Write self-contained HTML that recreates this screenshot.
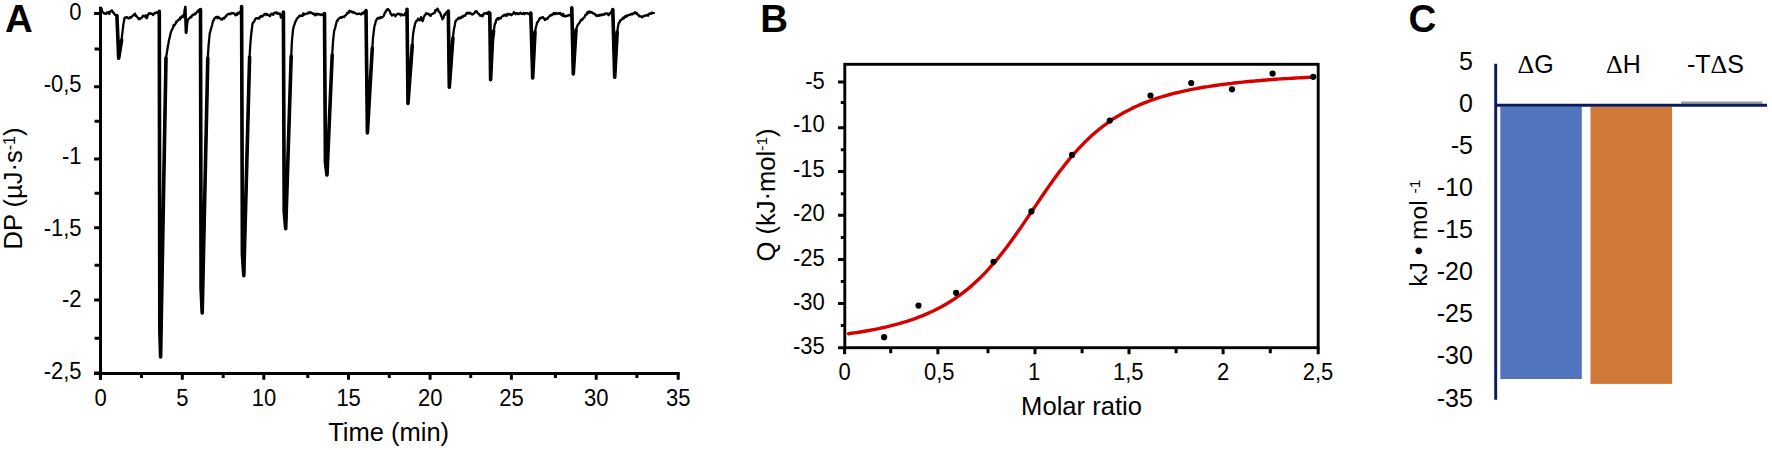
<!DOCTYPE html>
<html><head><meta charset="utf-8"><title>ITC figure</title>
<style>html,body{margin:0;padding:0;background:#fff;}svg{display:block;}</style></head>
<body><svg width="1772" height="450" viewBox="0 0 1772 450" font-family="'Liberation Sans', Arial, sans-serif" fill="#000">
<rect width="1772" height="450" fill="#fff"/>
<path d="M100.5,8 101,10.2 101.5,8.5 102,11 102.7,12.1 103.3,12.3 104,13.5 104.7,13.4 105.3,13.7 106,14 106.7,12.5 107.3,13.2 108,13 108.7,12 109.3,14 110,11.5 110.7,11.3 111.3,10.6 112,10.5 112.5,11.3 113,12.5 113.7,12.9 114.3,13.5 115,15 116.9,15.5 118.7,58.3 121.6,40 121.6,40 122.1,35.2 122.7,30.4 123.2,25.6 123.9,21.4 124.6,17.6 125,17.6 125.7,17.7 126.3,17.1 127,17.1 127.7,18.2 128.3,18 129,18.6 129.5,17.9 130,17.1 130.7,17.9 131.3,17.1 132,16.6 132.7,15.6 133.3,15.2 134,14.6 134.5,14.4 135,13.6 135.5,15.8 136,15.6 136.7,16.3 137.3,17.1 138,18.1 138.7,19 139.3,18.2 140,19.1 140.5,18.4 141,18.1 141.7,17.8 142.3,16.8 143,15.6 143.7,15.8 144.3,16.3 145,16.1 145.7,15.1 146.3,18 147,18.1 147.5,16 148,15.1 148.7,13.4 149.3,13.9 150,13.1 150.7,13.9 151.3,13.5 152,14.1 152.5,14 153,15.1 153.7,14.3 154.3,13.4 155,12.6 155.7,13.3 156.3,12.7 157,12.1 157.5,12.5 158.1,13.4 158.6,13.1 159.3,11.3 159.8,329.3 160.6,357 166,58 166,58 166.7,53.9 167.3,50 167.9,46.1 168.4,43.7 169,40 169.7,37.7 170.3,34.5 171,32 171.7,30.1 172.3,29.2 173,27.6 173.7,24.9 174.3,25.7 175,24.1 175.7,23.6 176.3,21.5 177,21.6 177.7,21 178.3,19.7 179,19.6 179.7,19.6 180.3,17.4 181,18.1 181.5,16.7 182,16.9 182.5,15.6 183.2,17 183.8,17.1 184.5,10.8 185.2,7.1 185.8,20 186.3,33 186.8,27.8 187.3,22.6 188,19.6 188.7,18.6 189.3,18.5 190,17.6 190.7,16.6 191.3,17.2 192,15.6 192.7,14.6 193.3,15.1 194,14.6 194.7,13.5 195.3,14.4 196,13.1 196.7,12.4 197.3,11.5 198,11.1 198.7,9.9 199.3,11.8 200,10.6 200.5,9.5 201.1,288.7 202.2,313 207.8,58 207.8,58 208.2,51.5 208.6,45 209.2,39 209.8,33 210.4,31.3 211,28.6 211.7,26.6 212.3,24.3 213,21.1 213.7,20.3 214.3,18.7 215,18.1 215.7,17.3 216.3,17 217,17.1 217.6,18.2 218.2,16.7 218.9,17.5 219.5,18.1 220.1,18.3 220.8,19 221.4,19.6 222,19.6 222.7,18.5 223.3,17.9 224,18.6 224.7,17.6 225.3,17.3 226,15.6 226.7,15.6 227.3,14.7 228,14.1 228.6,13.8 229.2,14.1 229.8,13.7 230.4,14.2 231,13.6 231.7,13 232.3,13.3 233,13.1 233.6,13.2 234.2,13.8 234.8,13.8 235.4,15.4 236,14.1 236.6,14.9 237.2,14.8 237.8,12.6 238.4,13.5 239,13.6 239.7,12.2 240.3,11.9 241,10.6 241.6,6.5 242.4,254.2 243.8,275.7 249.6,57 249.6,57 249.9,51 250.3,45 251,36 251.5,31.8 252,27.6 252.5,23.7 253,22.6 253.7,22.3 254.3,21.2 255,19.6 255.6,18.5 256.2,18.4 256.8,18.2 257.4,18.4 258,18.1 258.6,18.1 259.2,18.5 259.8,16.8 260.4,17 261,16.1 261.6,15.9 262.2,16.6 262.8,15.6 263.4,15.7 264,14.6 264.6,13.9 265.2,14.3 265.8,13.8 266.4,15.1 267,14.1 267.6,14.9 268.2,14.7 268.8,15 269.4,16 270,16.1 270.7,14.8 271.3,13.9 272,13.6 272.7,13.8 273.3,14.9 274,13.2 274.7,12.9 275.3,12.5 276,13.1 276.7,12.4 277.3,13.6 278,13.9 278.7,13.4 279.3,13.7 280,13.6 280.5,15.7 281,17.6 281.6,16.7 282.2,14.7 282.8,14.6 283.4,12 284.2,211.3 285.7,228.6 291.2,56 291.2,56 291.6,48 292,40 292.5,35 293,30 293.5,27.5 294,25.6 294.7,24 295.3,21.8 296,20.6 296.6,19.4 297.2,18.3 297.8,17.7 298.4,17.5 299,16.1 299.6,15.7 300.2,15.6 300.8,16 301.4,15.7 302,15.1 302.6,15.9 303.2,13.4 303.8,15 304.4,14 305,14.1 305.6,13.9 306.2,14 306.8,13.8 307.4,13.5 308,12.6 308.7,12.5 309.3,13.2 310,12.1 310.7,12.3 311.3,12.7 312,13.1 312.7,13.9 313.3,13.4 314,14.1 314.7,15.2 315.3,14.4 316,13.6 316.7,15.1 317.3,13.9 318,14.1 318.7,14 319.3,14.5 320,14.6 320.7,15 321.3,14.2 322,14.6 322.7,14.8 323.3,14.6 324,14.6 324.5,13.5 325.4,162.1 327,175 332.2,55 332.2,55 332.6,48.5 333,42 333.6,36 334.3,30 335,28.8 335.7,25.6 336.4,22.7 337,20.6 337.6,20.7 338.2,19.2 338.8,18.5 339.4,18.2 340,18.1 340.6,17.1 341.2,17.6 341.8,17.8 342.4,17 343,16.6 343.6,16.7 344.2,17 344.8,15.9 345.4,15.5 346,15.1 346.7,14.3 347.3,12.8 348,13.1 348.7,12.9 349.3,10.7 350,11.1 350.7,11.7 351.3,11.4 352,11.6 352.6,12.6 353.2,12.2 353.8,12 354.4,13 355,13.1 355.7,13.1 356.3,13.7 357,14.1 357.7,14 358.3,13.7 359,13.6 359.7,13.8 360.3,13.8 361,14.6 361.7,14.2 362.3,12.7 363,13.6 363.6,13 364.2,11.9 364.9,12.8 365.5,11.6 366,10.6 367.4,133 372.3,48 372.3,48 373,38 373.5,33.9 374,29.7 374.5,25.6 375.1,24.6 375.8,20.9 376.4,20.4 377,18.6 377.6,18.4 378.2,17.8 378.8,18.6 379.4,17.9 380,18.1 380.7,16.9 381.3,17.6 382,17.6 382.7,16.8 383.3,16.3 384,15.6 384.5,13.5 385,13.3 385.5,11.6 386.1,11.4 386.8,9.7 387.4,9.3 388,9.1 388.7,9.9 389.3,10.4 390,11.6 390.7,14 391.3,14.4 392,15.6 392.7,14.7 393.3,14.5 394,14.6 394.7,14.7 395.3,16.3 396,15.1 396.7,14.5 397.3,14.2 398,13.6 398.7,14.1 399.3,13.9 400,14.1 400.7,15.6 401.3,14.1 402,14.6 402.7,15.2 403.3,15 404,15.1 404.6,14.8 405.2,13.1 405.9,14.3 406.5,12.6 407,9.3 408,103.4 412.3,45 412.3,45 413,35 413.5,31.7 414,28.6 414.5,26.6 415,24 415.5,22.6 416.1,21.2 416.8,20.9 417.4,20.2 418,18.6 418.7,19.6 419.3,20.3 420,20.1 420.5,19 421,17.1 421.5,18.5 422.1,20.3 422.6,21.2 423.3,19.3 424,16.6 424.7,15.4 425.3,14.7 426,13.1 426.7,14 427.3,13.6 428,13.6 428.7,13.9 429.3,15 430,15.1 430.7,15.9 431.3,14.3 432,14.1 432.7,13.7 433.3,13.4 434,13.1 434.7,12.9 435.3,10.2 436,10.6 436.6,10.2 437.3,8.6 438,9.1 438.6,11.5 439.3,11.9 440,12.6 440.6,13.9 441.2,16.1 441.8,16.7 442.4,19.3 442.9,17.7 443.5,17.9 444,15.6 444.7,14.1 445.3,14.7 446,12.6 446.6,12.2 447.2,12.5 447.8,11.6 448.3,11 449.3,87.3 451.3,60 452.9,38 452.9,38 453.4,33.3 454,28.6 454.7,26 455.3,21.9 456,20.6 456.7,19.6 457.3,19.4 458,18.6 458.6,17.8 459.2,17.6 459.8,18.5 460.4,17.8 461,18.1 461.6,16.6 462.2,16.7 462.8,17.1 463.4,15.8 464,15.6 464.6,15.8 465.2,15.7 465.8,14.4 466.4,13.3 467,13.6 467.6,12.6 468.2,13.2 468.8,13.5 469.4,13 470,12.6 470.7,13.6 471.3,13.7 472,14.6 472.7,14.4 473.3,13.7 474,13.6 474.7,12.7 475.3,11.5 476,11.6 476.7,11.3 477.3,12.6 478,13.6 478.7,13.6 479.3,14.4 480,15.6 480.7,15.8 481.3,15.2 482,15.1 482.6,16.4 483.2,14.9 483.8,13.5 484.4,14 485,13.1 485.7,13.4 486.4,12.9 487.1,14 487.8,13 488.5,11.7 489.2,13.6 489.8,13 490.6,79.7 492.5,40 493.6,31 493.6,31 494.1,28.8 494.5,25.6 495,23.6 495.5,23.2 496,20.6 496.5,19.5 497,19.1 497.6,18.2 498.2,19.6 498.8,17.9 499.4,18.4 500,18.1 500.6,18.5 501.2,17.2 501.8,16.6 502.4,16.2 503,15.6 503.6,15.9 504.2,14.7 504.8,15.4 505.4,15.1 506,14.6 506.6,15.9 507.2,14.2 507.8,13.8 508.4,14.6 509,14.1 509.6,14 510.2,14.5 510.8,14.5 511.4,15.2 512,14.6 512.6,13.9 513.2,13.9 513.8,12.2 514.4,12.9 515,13.1 515.6,14.2 516.2,13.1 516.8,13.3 517.4,13.2 518,14.1 518.7,14.1 519.3,13.5 520,13.1 520.7,12.6 521.3,13.8 522,13.6 522.6,13.7 523.2,13.9 523.8,12.9 524.4,14.2 525,13.1 525.6,13.4 526.2,13.2 526.8,13.1 527.4,13.4 528,13.6 528.6,14.1 529.1,13.4 529.7,14.2 530.3,13.6 530.8,13 532.7,78 535,32 535,32 535.5,29.6 536,26.6 536.5,25.4 537,22.6 537.7,22.3 538.3,20.9 539,20.1 539.7,18.1 540.3,18.6 541,17.6 541.7,17.9 542.3,17.4 543,17.1 543.7,18.4 544.3,18.8 545,20.1 545.7,19.4 546.3,18.5 547,18.6 547.7,18.8 548.3,17.4 549,16.6 549.7,16 550.3,15.1 551,15.6 551.7,14.8 552.3,15.1 553,13.6 553.6,13.8 554.2,13 554.8,14.2 555.4,14.1 556,13.1 556.6,13.7 557.2,13.6 557.8,13.8 558.4,13.4 559,13.1 559.6,13.8 560.2,13 560.8,14.6 561.4,14 562,14.1 562.6,15.8 563.2,13.9 563.9,16 564.5,16.1 565.1,16.6 565.8,15.6 566.4,16 567,15.6 567.6,15.9 568.2,15.7 568.8,14.8 569.4,14.9 570,15.5 570.6,15.5 571.2,14.6 571.8,7.9 573.3,74 576,30 576,30 576.5,28.4 577,26.6 577.5,25.6 578,24.6 578.7,23.7 579.3,23.2 580,21.6 580.6,20.5 581.2,19.8 581.8,20.2 582.4,18.9 583,19.1 583.6,17.8 584.2,17.4 584.8,16.7 585.4,14.9 586,14.6 586.6,14.6 587.2,12.5 587.8,13.4 588.4,11.7 589,12.1 589.6,11.4 590.2,12.7 590.8,12.2 591.4,12 592,12.6 592.6,12.6 593.2,13.5 593.8,13.5 594.4,13.8 595,14.1 595.7,15.4 596.3,15 597,16.1 597.6,15.5 598.2,15.2 598.8,15.9 599.4,15.5 600,14.6 600.6,15.4 601.2,14.6 601.8,14.5 602.4,15.1 603,14.6 603.6,14.2 604.2,14.7 604.8,14.4 605.4,13.4 606,13.6 606.7,13.6 607.3,13.5 608,14.6 608.7,15.2 609.3,13.5 610,13.6 610.5,13.4 611.1,11.7 611.7,13 612.2,12.6 612.8,9.5 614.7,77.3 617.2,32 617.2,32 617.6,29.3 618,26.6 618.5,24 619,22.6 619.6,22.4 620.2,20.3 620.8,20.4 621.4,19.9 622,19.1 622.6,18 623.2,18.8 623.8,18.5 624.4,16.7 625,17.1 625.6,16 626.2,16.9 626.8,16.2 627.4,15.2 628,15.6 628.7,15.1 629.3,14.9 630,14.5 630.7,14.8 631.3,14.2 632,13.6 632.6,14.4 633.2,13.8 633.8,13.1 634.4,13 635,12.1 635.6,13.4 636.2,13.5 636.8,12.9 637.4,14.6 638,14.6 638.6,15 639.2,16.4 639.8,15.9 640.4,16.5 641,16.6 641.6,16.7 642.2,17.4 642.8,16.4 643.4,16 644,16.1 644.6,16.1 645.2,15.4 645.8,15.6 646.4,15.3 647,15.1 647.6,15 648.2,15.7 648.8,14 649.4,13.9 650,13.6 650.6,13.4 651.2,13.8 651.8,12.6 652.4,12.8 653,13.1 653.5,13.1 654,13.1" fill="none" stroke="#000" stroke-width="2.3" stroke-linejoin="round" stroke-linecap="round"/>
<path d="M116.9,15.5 118.7,58.3 121.6,40 M159.3,11.3 159.8,329.3 160.6,357 166,58 M200.5,9.5 201.1,288.7 202.2,313 207.8,58 M241.6,6.5 242.4,254.2 243.8,275.7 249.6,57 M283.4,12 284.2,211.3 285.7,228.6 291.2,56 M324.5,13.5 325.4,162.1 327,175 332.2,55 M366,10.6 367.4,133 372.3,48 M407,9.3 408,103.4 412.3,45 M448.3,11 449.3,87.3 451.3,60 452.9,38 M489.8,13 490.6,79.7 492.5,40 493.6,31 M530.8,13 532.7,78 535,32 M571.8,7.9 573.3,74 576,30 M612.8,9.5 614.7,77.3 617.2,32" fill="none" stroke="#000" stroke-width="3.6" stroke-linejoin="round" stroke-linecap="round"/>
<path d="M185.2,7 L185.9,32.5 L186.6,26" fill="none" stroke="#000" stroke-width="2.6" stroke-linejoin="round" stroke-linecap="round"/>
<path d="M100.5,6.7 V379.8 M94,373.4 H679.7" stroke="#000" stroke-width="3" fill="none"/>
<path d="M94.1,13.4 H100.5 M94.6,49.1 H100.5 M94.1,86.7 H100.5 M94.6,121.3 H100.5 M94.1,159.1 H100.5 M94.6,193.3 H100.5 M94.1,227.7 H100.5 M94.6,265.3 H100.5 M94.1,300.0 H100.5 M94.6,338.2 H100.5 M94.1,372.9 H100.5 M100.4,373.4 V379.7 M141.5,373.4 V378.1 M182.3,373.4 V379.7 M223.2,373.4 V378.1 M263.8,373.4 V379.7 M307.8,373.4 V378.1 M348.5,373.4 V379.7 M389.3,373.4 V378.1 M430.1,373.4 V379.7 M470.7,373.4 V378.1 M511.4,373.4 V379.7 M555.4,373.4 V378.1 M596.2,373.4 V379.7 M636.9,373.4 V378.1 M678.2,373.4 V379.7" stroke="#000" stroke-width="3" fill="none"/>
<text transform="translate(81.6,19.94) scale(1,1.07)" text-anchor="end" font-size="22">0</text>
<text transform="translate(81.6,91.81) scale(1,1.07)" text-anchor="end" font-size="22">-0,5</text>
<text transform="translate(81.6,163.68) scale(1,1.07)" text-anchor="end" font-size="22">-1</text>
<text transform="translate(81.6,235.55) scale(1,1.07)" text-anchor="end" font-size="22">-1,5</text>
<text transform="translate(81.6,307.42) scale(1,1.07)" text-anchor="end" font-size="22">-2</text>
<text transform="translate(81.6,379.29) scale(1,1.07)" text-anchor="end" font-size="22">-2,5</text>
<text transform="translate(100.5,405.59) scale(1,1.07)" text-anchor="middle" font-size="22">0</text>
<text transform="translate(182.4,405.59) scale(1,1.07)" text-anchor="middle" font-size="22">5</text>
<text transform="translate(263.9,405.59) scale(1,1.07)" text-anchor="middle" font-size="22">10</text>
<text transform="translate(348.6,405.59) scale(1,1.07)" text-anchor="middle" font-size="22">15</text>
<text transform="translate(430.2,405.59) scale(1,1.07)" text-anchor="middle" font-size="22">20</text>
<text transform="translate(511.5,405.59) scale(1,1.07)" text-anchor="middle" font-size="22">25</text>
<text transform="translate(596.3,405.59) scale(1,1.07)" text-anchor="middle" font-size="22">30</text>
<text transform="translate(678.3,405.59) scale(1,1.07)" text-anchor="middle" font-size="22">35</text>
<text x="388.65" y="441.1" text-anchor="middle" font-size="25.5">Time (min)</text>
<text transform="translate(22.0,188.55) rotate(-90)" text-anchor="middle" font-size="25.5">DP (µJ·s<tspan font-size="16" dy="-7.5">-1</tspan><tspan dy="7.5">)</tspan></text>
<text x="5.0" y="31.8" font-size="38.5" font-weight="bold">A</text>
<path d="M848.5,333.8 851.4,333.3 854.3,332.9 857.3,332.5 860.2,332.0 863.1,331.5 866.0,331.0 868.9,330.5 871.9,329.9 874.8,329.4 877.7,328.8 880.6,328.2 883.6,327.5 886.5,326.9 889.4,326.2 892.3,325.4 895.2,324.7 898.2,323.9 901.1,323.0 904.0,322.2 906.9,321.3 909.8,320.3 912.8,319.3 915.7,318.3 918.6,317.2 921.5,316.1 924.5,314.9 927.4,313.6 930.3,312.3 933.2,311.0 936.1,309.5 939.1,308.0 942.0,306.5 944.9,304.8 947.8,303.1 950.7,301.3 953.7,299.4 956.6,297.4 959.5,295.4 962.4,293.2 965.4,290.9 968.3,288.6 971.2,286.1 974.1,283.5 977.0,280.8 980.0,278.0 982.9,275.1 985.8,272.1 988.7,268.9 991.6,265.7 994.6,262.3 997.5,258.8 1000.4,255.2 1003.3,251.5 1006.3,247.7 1009.2,243.8 1012.1,239.8 1015.0,235.7 1017.9,231.6 1020.9,227.4 1023.8,223.1 1026.7,218.9 1029.6,214.5 1032.5,210.2 1035.5,205.9 1038.4,201.6 1041.3,197.3 1044.2,193.0 1047.2,188.8 1050.1,184.6 1053.0,180.5 1055.9,176.5 1058.8,172.6 1061.8,168.7 1064.7,165.0 1067.6,161.4 1070.5,157.8 1073.4,154.4 1076.4,151.1 1079.3,147.9 1082.2,144.9 1085.1,141.9 1088.1,139.0 1091.0,136.3 1093.9,133.7 1096.8,131.2 1099.7,128.8 1102.7,126.5 1105.6,124.3 1108.5,122.2 1111.4,120.2 1114.3,118.2 1117.3,116.4 1120.2,114.7 1123.1,113.0 1126.0,111.4 1129.0,109.9 1131.9,108.4 1134.8,107.0 1137.7,105.7 1140.6,104.4 1143.6,103.2 1146.5,102.1 1149.4,101.0 1152.3,99.9 1155.2,98.9 1158.2,97.9 1161.1,97.0 1164.0,96.1 1166.9,95.3 1169.9,94.5 1172.8,93.7 1175.7,93.0 1178.6,92.3 1181.5,91.6 1184.5,90.9 1187.4,90.3 1190.3,89.7 1193.2,89.1 1196.1,88.6 1199.1,88.0 1202.0,87.5 1204.9,87.0 1207.8,86.6 1210.8,86.1 1213.7,85.7 1216.6,85.3 1219.5,84.9 1222.4,84.5 1225.4,84.1 1228.3,83.7 1231.2,83.4 1234.1,83.0 1237.0,82.7 1240.0,82.4 1242.9,82.1 1245.8,81.8 1248.7,81.5 1251.7,81.2 1254.6,81.0 1257.5,80.7 1260.4,80.5 1263.3,80.2 1266.3,80.0 1269.2,79.8 1272.1,79.6 1275.0,79.3 1277.9,79.1 1280.9,78.9 1283.8,78.7 1286.7,78.6 1289.6,78.4 1292.6,78.2 1295.5,78.0 1298.4,77.9 1301.3,77.7 1304.2,77.5 1307.2,77.4 1310.1,77.2 1313.0,77.1" fill="none" stroke="#d60000" stroke-width="3.4" stroke-linecap="round" stroke-linejoin="round"/>
<circle cx="884.1" cy="337.2" r="3.1" fill="#000"/>
<circle cx="918.5" cy="305.6" r="3.1" fill="#000"/>
<circle cx="956.1" cy="292.8" r="3.1" fill="#000"/>
<circle cx="993.5" cy="261.8" r="3.1" fill="#000"/>
<circle cx="1031.4" cy="211.4" r="3.1" fill="#000"/>
<circle cx="1072.1" cy="154.9" r="3.1" fill="#000"/>
<circle cx="1109.8" cy="120.6" r="3.1" fill="#000"/>
<circle cx="1150.5" cy="95.5" r="3.1" fill="#000"/>
<circle cx="1191.2" cy="83.0" r="3.1" fill="#000"/>
<circle cx="1232.0" cy="89.3" r="3.1" fill="#000"/>
<circle cx="1272.6" cy="73.6" r="3.1" fill="#000"/>
<circle cx="1313.3" cy="76.8" r="3.1" fill="#000"/>
<rect x="844.8" y="64.3" width="473.4" height="283.4" fill="none" stroke="#000" stroke-width="2.9"/>
<path d="M838.0,82.0 H844.8 M840.8,102.6 H844.8 M838.0,127.7 H844.8 M840.8,149.7 H844.8 M838.0,171.6 H844.8 M840.8,193.7 H844.8 M838.0,215.3 H844.8 M840.8,237.4 H844.8 M838.0,259.4 H844.8 M840.8,281.4 H844.8 M838.0,303.4 H844.8 M840.8,325.6 H844.8 M838.0,347.8 H844.8 M844.6,347.7 V354.3 M890.7,347.7 V353.3 M937.9,347.7 V354.3 M988.0,347.7 V353.3 M1035.0,347.7 V354.3 M1082.1,347.7 V353.3 M1129.0,347.7 V354.3 M1176.1,347.7 V353.3 M1223.1,347.7 V354.3 M1270.3,347.7 V353.3 M1318.2,347.7 V354.3" stroke="#000" stroke-width="3" fill="none"/>
<text transform="translate(824.8,88.54) scale(1,1.07)" text-anchor="end" font-size="22">-5</text>
<text transform="translate(824.8,131.79) scale(1,1.07)" text-anchor="end" font-size="22">-10</text>
<text transform="translate(824.8,176.89) scale(1,1.07)" text-anchor="end" font-size="22">-15</text>
<text transform="translate(824.8,221.09) scale(1,1.07)" text-anchor="end" font-size="22">-20</text>
<text transform="translate(824.8,266.39) scale(1,1.07)" text-anchor="end" font-size="22">-25</text>
<text transform="translate(824.8,310.39) scale(1,1.07)" text-anchor="end" font-size="22">-30</text>
<text transform="translate(824.8,353.79) scale(1,1.07)" text-anchor="end" font-size="22">-35</text>
<text transform="translate(844.65,379.94) scale(1,1.07)" text-anchor="middle" font-size="22">0</text>
<text transform="translate(939.20,379.94) scale(1,1.07)" text-anchor="middle" font-size="22">0,5</text>
<text transform="translate(1034.10,379.94) scale(1,1.07)" text-anchor="middle" font-size="22">1</text>
<text transform="translate(1128.20,379.94) scale(1,1.07)" text-anchor="middle" font-size="22">1,5</text>
<text transform="translate(1223.10,379.94) scale(1,1.07)" text-anchor="middle" font-size="22">2</text>
<text transform="translate(1318.00,379.94) scale(1,1.07)" text-anchor="middle" font-size="22">2,5</text>
<text x="1081.55" y="414.7" text-anchor="middle" font-size="25.6">Molar ratio</text>
<text transform="translate(775.0,195.0) rotate(-90)" text-anchor="middle" font-size="25.6">Q (kJ·mol<tspan font-size="15.5" dy="-8">-1</tspan><tspan dy="8">)</tspan></text>
<text x="760.2" y="31.8" font-size="38.5" font-weight="bold">B</text>
<rect x="1500.3" y="106.7" width="81.3" height="272.2" fill="#5275c0"/>
<rect x="1590.5" y="106.7" width="81.6" height="277.0" fill="#d07838"/>
<rect x="1580.6" y="106.7" width="1.0" height="272.2" fill="#4466bb" opacity="0.6"/>
<rect x="1500.3" y="377.9" width="81.3" height="1.0" fill="#4466bb" opacity="0.6"/>
<rect x="1590.5" y="382.7" width="81.6" height="1.0" fill="#c4692a" opacity="0.6"/>
<rect x="1681" y="101.3" width="81.3" height="2.8" fill="#a5a5a5"/>
<path d="M1495.7,63.7 V399.8 M1495.7,105.2 H1767" stroke="#0b1a5c" stroke-width="2.9" fill="none"/>
<text x="1472.9" y="69.79" text-anchor="end" font-size="25">5</text>
<text x="1472.9" y="111.89" text-anchor="end" font-size="25">0</text>
<text x="1472.9" y="153.99" text-anchor="end" font-size="25">-5</text>
<text x="1472.9" y="196.09" text-anchor="end" font-size="25">-10</text>
<text x="1472.9" y="238.19" text-anchor="end" font-size="25">-15</text>
<text x="1472.9" y="280.29" text-anchor="end" font-size="25">-20</text>
<text x="1472.9" y="322.39" text-anchor="end" font-size="25">-25</text>
<text x="1472.9" y="364.49" text-anchor="end" font-size="25">-30</text>
<text x="1472.9" y="406.59" text-anchor="end" font-size="25">-35</text>
<text x="1535.6" y="72.6" text-anchor="middle" font-size="25"><tspan font-family="Liberation Serif" font-size="26">Δ</tspan>G</text>
<text x="1623.4" y="72.6" text-anchor="middle" font-size="25"><tspan font-family="Liberation Serif" font-size="26">Δ</tspan>H</text>
<text x="1715.4" y="72.6" text-anchor="middle" font-size="25">-T<tspan font-family="Liberation Serif" font-size="26">Δ</tspan>S</text>
<text transform="translate(1426.9,233.2) rotate(-90)" text-anchor="middle" font-size="24.6">kJ • mol <tspan font-size="15.5" dy="-6.6">-1</tspan></text>
<text x="1408.6" y="31.8" font-size="38.5" font-weight="bold">C</text>
</svg></body></html>
